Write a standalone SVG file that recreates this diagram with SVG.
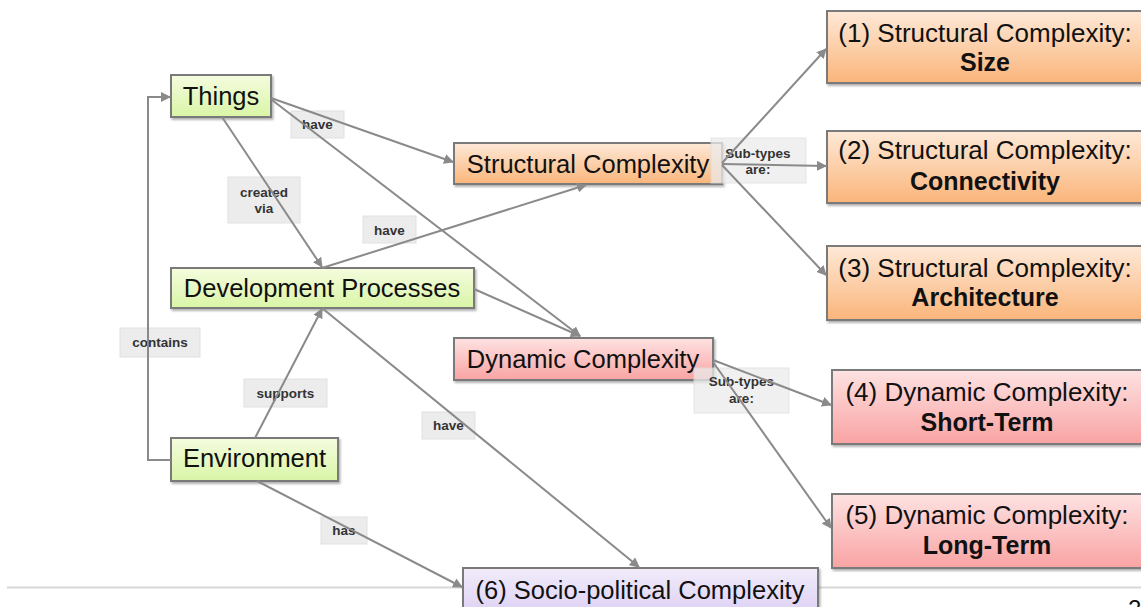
<svg xmlns="http://www.w3.org/2000/svg" width="1141" height="607" viewBox="0 0 1141 607">
<style>
.node{stroke:#7a7a7a;stroke-width:2;filter:url(#sh)}
.nt{font-family:"Liberation Sans",Arial,sans-serif;font-size:25.5px;fill:#111;text-anchor:middle}
.nr{font-family:"Liberation Sans",Arial,sans-serif;font-size:26px;fill:#111;text-anchor:middle}
.nb{font-family:"Liberation Sans",Arial,sans-serif;font-size:25px;font-weight:bold;fill:#111;text-anchor:middle}
.lb{fill:#ebebeb;stroke:#dddddd;stroke-width:1;opacity:0.9}
.lt{font-family:"Liberation Sans",Arial,sans-serif;font-size:13.5px;font-weight:bold;fill:#333;text-anchor:middle}
.c{fill:none;stroke:#8a8a8a;stroke-width:2}
</style>
<defs>
<filter id="sh" x="-5%" y="-10%" width="115%" height="130%"><feDropShadow dx="1.5" dy="2" stdDeviation="1.2" flood-color="#000" flood-opacity="0.3"/></filter>
<linearGradient id="gG" x1="0" y1="0" x2="0" y2="1"><stop offset="0" stop-color="#f5fcdf"/><stop offset="1" stop-color="#d9f5a6"/></linearGradient>
<linearGradient id="gO" x1="0" y1="0" x2="0" y2="1"><stop offset="0" stop-color="#fee9d8"/><stop offset="1" stop-color="#fab57a"/></linearGradient>
<linearGradient id="gR" x1="0" y1="0" x2="0" y2="1"><stop offset="0" stop-color="#fee2e2"/><stop offset="1" stop-color="#f9a3a3"/></linearGradient>
<linearGradient id="gP" x1="0" y1="0" x2="0" y2="1"><stop offset="0" stop-color="#f1ecfb"/><stop offset="1" stop-color="#dccff3"/></linearGradient>
<marker id="ah" viewBox="0 0 10 10" refX="9" refY="5" markerWidth="5" markerHeight="5" orient="auto" markerUnits="strokeWidth"><path d="M0,0 L10,5 L0,10 z" fill="#8a8a8a"/></marker>
</defs>
<rect width="1141" height="607" fill="#ffffff"/>
<line x1="7" y1="587.5" x2="1141" y2="587.5" stroke="#d8d8d8" stroke-width="2"/>
<text x="1128" y="617" font-family="Liberation Sans,Arial,sans-serif" font-size="24" fill="#111">2</text>

<g id="n-things"><rect class="node" x="171" y="75" width="100" height="42" fill="url(#gG)"/><text class="nt" x="221" y="105">Things</text></g>
<g id="n-dev"><rect class="node" x="171" y="268" width="303" height="40" fill="url(#gG)"/><text class="nt" x="322" y="297">Development Processes</text></g>
<g id="n-env"><rect class="node" x="171" y="438" width="167" height="43" fill="url(#gG)"/><text class="nt" x="254.5" y="467">Environment</text></g>
<g id="n-struct"><rect class="node" x="454" y="143" width="268" height="41" fill="url(#gO)"/><text class="nt" x="588" y="173">Structural Complexity</text></g>
<g id="n-dyn"><rect class="node" x="454" y="338" width="259" height="42" fill="url(#gR)"/><text class="nt" x="583" y="368">Dynamic Complexity</text></g>
<g id="n-socio"><rect class="node" x="463" y="568" width="355" height="50" fill="url(#gP)"/><text class="nt" x="640" y="599">(6) Socio-political Complexity</text></g>
<g id="n-s1"><rect class="node" x="827" y="11" width="318" height="72" fill="url(#gO)"/><text class="nr" x="985" y="42">(1) Structural Complexity:</text><text class="nb" x="985" y="71">Size</text></g>
<g id="n-s2"><rect class="node" x="827" y="131" width="318" height="72" fill="url(#gO)"/><text class="nr" x="985" y="159">(2) Structural Complexity:</text><text class="nb" x="985" y="190">Connectivity</text></g>
<g id="n-s3"><rect class="node" x="827" y="246" width="318" height="74" fill="url(#gO)"/><text class="nr" x="985" y="277">(3) Structural Complexity:</text><text class="nb" x="985" y="306">Architecture</text></g>
<g id="n-d4"><rect class="node" x="832" y="370" width="313" height="74" fill="url(#gR)"/><text class="nr" x="987" y="401">(4) Dynamic Complexity:</text><text class="nb" x="987" y="431">Short-Term</text></g>
<g id="n-d5"><rect class="node" x="832" y="494" width="313" height="74" fill="url(#gR)"/><text class="nr" x="987" y="524">(5) Dynamic Complexity:</text><text class="nb" x="987" y="554">Long-Term</text></g>

<g id="labels">
<rect class="lb" x="291" y="111" width="53" height="27"/><text class="lt" x="317.5" y="129">have</text>
<rect class="lb" x="228" y="177" width="72" height="46"/><text class="lt" x="264" y="197">created</text><text class="lt" x="264" y="213">via</text>
<rect class="lb" x="363" y="216" width="53" height="27"/><text class="lt" x="389.5" y="235">have</text>
<rect class="lb" x="711" y="138" width="95" height="45" style="opacity:0.75"/><text class="lt" x="758" y="158">Sub-types</text><text class="lt" x="758" y="174">are:</text>
<rect class="lb" x="120" y="328" width="80" height="29"/><text class="lt" x="160" y="347">contains</text>
<rect class="lb" x="244" y="379" width="83" height="28"/><text class="lt" x="285.5" y="398">supports</text>
<rect class="lb" x="422" y="412" width="53" height="27"/><text class="lt" x="448.5" y="430">have</text>
<rect class="lb" x="321" y="517" width="46" height="27"/><text class="lt" x="344" y="535">has</text>
<rect class="lb" x="694" y="368" width="95" height="45" style="opacity:0.75"/><text class="lt" x="741.5" y="386">Sub-types</text><text class="lt" x="741.5" y="403">are:</text>
</g>

<g id="connectors">
<polyline class="c" points="171,460 148,460 148,97 170,97" marker-end="url(#ah)"/>
<line class="c" x1="271" y1="98" x2="453" y2="162" marker-end="url(#ah)"/>
<line class="c" x1="272" y1="100" x2="580" y2="336" marker-end="url(#ah)"/>
<line class="c" x1="474" y1="289" x2="580" y2="336" marker-end="url(#ah)"/>
<line class="c" x1="222" y1="117" x2="322" y2="267" marker-end="url(#ah)"/>
<line class="c" x1="322" y1="268" x2="586" y2="185" marker-end="url(#ah)"/>
<line class="c" x1="255" y1="438" x2="322" y2="309" marker-end="url(#ah)"/>
<line class="c" x1="322" y1="308" x2="639" y2="567" marker-end="url(#ah)"/>
<line class="c" x1="257" y1="481" x2="462" y2="587" marker-end="url(#ah)"/>
<line class="c" x1="722" y1="163" x2="826" y2="49" marker-end="url(#ah)"/>
<line class="c" x1="722" y1="164" x2="826" y2="166" marker-end="url(#ah)"/>
<line class="c" x1="722" y1="165" x2="826" y2="275" marker-end="url(#ah)"/>
<line class="c" x1="713" y1="360" x2="831" y2="405" marker-end="url(#ah)"/>
<line class="c" x1="713" y1="362" x2="831" y2="528" marker-end="url(#ah)"/>
</g>
</svg>
